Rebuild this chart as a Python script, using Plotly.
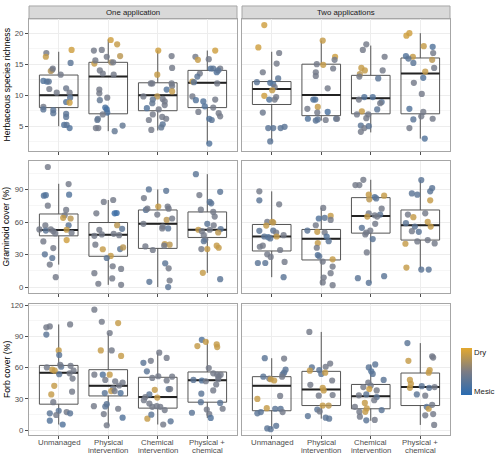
import plotly.graph_objects as go
from plotly.subplots import make_subplots

TREATMENT_LABELS = ["Unmanaged", "Physical<br>intervention", "Chemical<br>intervention", "Physical +<br>chemical"]
APPLICATIONS = ["One application", "Two applications"]
RESPONSE_TITLES = ["Herbaceous species richness", "Graminoid cover (%)", "Forb cover (%)"]

herb_one = [
    [(16.8,-0.25,0.45),(16.2,-0.26,0.85),(17.3,0.26,0.9),(14.1,-0.13,0.45),(13.9,-0.16,0.75),(14.3,-0.12,0.45),
     (13.3,0.04,0.45),(15.2,0.24,0.3),(12.3,-0.31,0.25),(12.2,-0.24,0.25),(12.2,-0.2,0.3),(11.0,-0.19,0.45),
     (10.4,-0.04,0.45),(11.1,0.15,0.4),(10.4,0.22,0.45),(9.6,0.23,0.3),(8.9,0.15,0.25),(8.8,0.22,0.9),
     (8.1,-0.31,0.45),(7.7,-0.31,0.3),(7.6,-0.11,0.3),(7.1,-0.11,0.3),(7.0,0.15,0.3),(6.5,0.15,0.3),
     (5.2,0.11,0.25),(5.2,0.16,0.3),(4.7,0.22,0.25)],
    [(17.2,-0.29,0.45),(17.3,-0.13,0.45),(18.9,0.05,0.9),(18.2,0.18,0.85),(16.3,0.24,0.8),(16.2,-0.03,0.45),
     (15.1,-0.28,0.85),(15.6,-0.26,0.45),(15.3,0.06,0.7),(15.3,0.1,0.45),(14.0,-0.17,0.45),(13.5,-0.11,0.45),
     (13.3,0.11,0.45),(10.9,-0.18,0.45),(10.3,-0.18,0.45),(9.2,-0.17,0.35),(9.6,-0.02,0.45),(8.0,-0.06,0.2),
     (7.7,-0.03,0.15),(7.2,-0.02,0.2),(6.9,-0.11,0.45),(6.0,-0.22,0.35),(6.2,-0.21,0.35),(4.7,-0.25,0.45),
     (4.7,-0.2,0.45),(4.2,0.13,0.35),(5.1,0.29,0.35)],
    [(17.2,0.01,0.9),(16.3,0.28,0.45),(14.4,0.29,0.45),(13.3,-0.01,0.85),(11.9,-0.14,0.45),(11.9,-0.11,0.45),
     (11.9,0.28,0.45),(11.5,0.29,0.45),(10.9,0.18,0.25),(10.6,0.29,0.85),(9.8,-0.01,0.8),(9.8,-0.29,0.45),
     (9.3,-0.1,0.35),(8.7,-0.11,0.35),(9.4,0.1,0.45),(9.0,0.14,0.45),(7.9,-0.22,0.25),(8.4,0.14,0.45),
     (7.7,0.02,0.45),(6.9,-0.1,0.45),(6.0,-0.18,0.45),(6.5,0.09,0.45),(6.2,0.17,0.45),(5.3,0.1,0.3),
     (4.8,0.07,0.35),(4.4,-0.13,0.45)],
    [(16.2,-0.24,0.45),(15.7,-0.19,0.85),(17.2,0.16,0.9),(15.8,0.03,0.45),(14.3,0.07,0.25),(14.3,0.12,0.3),
     (14.3,0.26,0.45),(13.7,0.19,0.25),(14.0,0.22,0.3),(13.5,-0.15,0.45),(13.0,-0.2,0.3),(12.2,-0.3,0.85),
     (12.1,-0.27,0.3),(11.9,0.2,0.45),(9.8,-0.3,0.45),(9.2,-0.23,0.25),(9.0,-0.08,0.25),(9.3,0.16,0.45),
     (8.0,0.12,0.45),(8.2,-0.05,0.25),(7.3,-0.18,0.45),(7.1,0.23,0.45),(6.6,0.26,0.45),(6.2,0.04,0.25),
     (6.0,0.09,0.3),(2.2,0.04,0.25)],
]
herb_two = [
    [(21.3,-0.15,0.9),(17.7,-0.27,0.9),(16.8,0.15,0.45),(15.1,0.1,0.45),(13.7,-0.18,0.45),(12.7,0.13,0.3),
     (12.1,-0.3,0.3),(12.0,-0.03,0.25),(11.8,0.03,0.25),(11.3,0.06,0.45),(10.8,0.01,0.85),(9.9,-0.15,0.9),
     (9.7,0.09,0.45),(9.3,-0.05,0.25),(9.3,0.06,0.45),(7.2,-0.18,0.4),(4.7,-0.07,0.3),(4.7,0.03,0.3),
     (4.7,0.18,0.3),(4.9,0.26,0.3),(2.55,-0.03,0.3)],
    [(18.8,0.03,0.85),(16.2,0.28,0.9),(15.7,0.27,0.45),(15.0,-0.09,0.45),(14.9,0.04,0.85),(14.3,0.24,0.45),
     (13.7,-0.11,0.45),(13.1,-0.11,0.45),(11.1,0.13,0.45),(9.3,-0.16,0.25),(9.3,-0.12,0.25),(8.1,-0.07,0.85),
     (7.8,-0.28,0.45),(7.2,-0.08,0.45),(7.3,0.13,0.2),(6.2,-0.27,0.25),(5.9,-0.11,0.3),(6.1,-0.07,0.3),
     (6.0,0.09,0.45),(6.2,0.3,0.3),(6.2,0.32,0.45)],
    [(18.2,-0.09,0.45),(17.3,-0.16,0.45),(16.2,0.28,0.45),(14.4,-0.19,0.85),(14.0,-0.12,0.85),(13.4,-0.22,0.8),
     (13.0,-0.23,0.45),(14.0,0.24,0.45),(12.7,0.15,0.3),(9.7,0.04,0.25),(9.7,-0.13,0.25),(9.3,-0.24,0.45),
     (8.9,0.22,0.3),(8.7,0.19,0.45),(7.7,0.13,0.3),(7.4,-0.18,0.85),(6.9,-0.28,0.45),(6.9,-0.05,0.45),
     (6.3,-0.09,0.45),(5.1,-0.2,0.3),(4.7,-0.13,0.45),(5.0,-0.04,0.3),(4.1,-0.2,0.45)],
    [(19.6,-0.28,0.9),(20.0,-0.22,0.9),(17.9,0.07,0.85),(17.8,0.25,0.25),(16.8,0.26,0.45),(16.3,-0.29,0.25),
     (16.2,-0.15,0.85),(15.9,-0.24,0.3),(15.2,-0.14,0.3),(15.7,0.24,0.8),(14.4,0.28,0.45),(13.8,0.1,0.85),
     (12.8,0.06,0.25),(12.0,-0.13,0.45),(10.2,0.03,0.45),(7.8,-0.22,0.25),(7.3,0.06,0.45),(6.6,0.02,0.45),
     (6.1,-0.14,0.3),(6.2,0.25,0.45),(4.7,-0.22,0.45),(3.0,0.09,0.25)],
]
gram_one = [
    [(111,-0.22,0.45),(84.5,-0.3,0.25),(85,-0.26,0.25),(75.3,-0.22,0.45),(95.2,0.2,0.45),(85.4,0.21,0.25),
     (71.3,0.15,0.45),(63.4,0.24,0.8),(66.4,0.12,0.45),(64.0,0.09,0.85),(57,-0.27,0.45),(57.2,0.2,0.3),
     (53.3,-0.39,0.45),(52.3,-0.26,0.3),(53.3,-0.16,0.45),(51.7,-0.11,0.45),(49.6,-0.07,0.45),(53,0.16,0.85),
     (50.2,0.26,0.45),(42.2,-0.31,0.45),(43.5,0.16,0.9),(36.1,-0.11,0.45),(30.3,-0.28,0.3),(26.9,-0.13,0.3),
     (20.8,-0.18,0.45),(9.2,-0.06,0.45)],
    [(68.2,-0.24,0.45),(78.7,-0.09,0.45),(80.5,0.1,0.45),(68.2,0.13,0.12),(68.5,0.17,0.12),(47.4,-0.28,0.45),
     (53,-0.18,0.45),(48.7,-0.13,0.45),(35,-0.11,0.85),(39.2,-0.26,0.45),(57.2,0.18,0.8),(49.3,0.11,0.45),
     (48,0.22,0.45),(53.9,0.28,0.3),(35.2,0.24,0.3),(36.7,0.3,0.8),(28.8,0.05,0.85),(26.9,-0.03,0.3),
     (19.3,0.09,0.45),(16.8,0.26,0.45),(12.9,-0.28,0.45),(3.1,-0.2,0.45),(8,0.08,0.45),(2.1,0.26,0.45)],
    [(90.3,-0.18,0.3),(82.3,-0.28,0.45),(89,0.17,0.3),(71.3,-0.24,0.3),(72.5,-0.21,0.45),(74.4,0.01,0.85),
     (74.4,0.2,0.45),(67,-0.01,0.45),(72.5,0.22,0.45),(62.1,0.18,0.8),(63.4,0.29,0.45),(58.5,-0.29,0.45),
     (56,0.1,0.45),(54.2,0.09,0.45),(54.2,0.21,0.3),(39.8,0.14,0.85),(39.2,0.24,0.8),(37.6,-0.25,0.45),
     (34.3,-0.1,0.45),(38.3,0.13,0.45),(22,0.15,0.3),(17.4,0.22,0.45),(4.9,-0.17,0.3),(6.1,0.24,0.45),
     (0,0.21,0.3)],
    [(104.4,-0.23,0.3),(85.1,-0.16,0.45),(88.1,0.26,0.3),(71.6,-0.13,0.45),(78.7,0.05,0.3),(77.4,0.08,0.3),
     (69.5,0.12,0.45),(65.2,0.15,0.45),(58.5,0.0,0.3),(57.2,0.13,0.45),(53,-0.18,0.85),(51.7,-0.11,0.45),
     (53,0.05,0.45),(53.6,0.27,0.3),(48,-0.07,0.45),(44,-0.04,0.45),(42.5,-0.07,0.3),(50.5,0.22,0.8),
     (38.3,0.19,0.85),(36.4,0.23,0.85),(35.2,0.0,0.85),(35.2,-0.12,0.45),(13.2,-0.09,0.85),(7.3,0.26,0.3)],
]
gram_two = [
    [(88.5,-0.25,0.45),(80.2,-0.25,0.3),(76.5,0.15,0.45),(60.3,-0.09,0.45),(60.3,0.01,0.85),(56.9,-0.11,0.85),
     (59.7,0.03,0.8),(52,-0.25,0.3),(52.3,0.03,0.3),(50.5,0.09,0.45),(48,0.24,0.45),(46.8,-0.15,0.3),
     (46.2,-0.07,0.25),(45,-0.03,0.3),(46.8,0.1,0.85),(37.3,-0.24,0.45),(38.3,-0.18,0.45),(34.3,0.17,0.45),
     (30.3,-0.09,0.45),(27.9,-0.02,0.45),(23.3,0.26,0.45),(22.3,-0.28,0.3),(22.3,-0.13,0.3),(9.2,0.24,0.3)],
    [(73.2,0.04,0.45),(65.8,0.19,0.85),(63.4,-0.05,0.25),(64,0.07,0.3),(62.1,0.19,0.45),(57.2,-0.11,0.45),
     (52.3,-0.28,0.3),(51.1,-0.08,0.85),(50.5,0.07,0.45),(46.8,0.11,0.25),(42.5,0.15,0.3),(40.7,-0.07,0.85),
     (36.4,-0.09,0.45),(29.7,-0.07,0.25),(28.5,-0.04,0.3),(25.7,0.23,0.85),(23.6,0.03,0.45),(19,0.23,0.45),
     (12.9,0.19,0.45),(8.9,0.05,0.45),(4.3,0.03,0.45),(1.8,0.23,0.45)],
    [(94.3,-0.31,0.45),(94.3,-0.23,0.45),(99.2,-0.15,0.45),(85.4,-0.04,0.85),(84.5,0.27,0.85),(83.3,0.08,0.25),
     (82,0.11,0.3),(81.1,-0.03,0.8),(54.8,-0.18,0.3),(72.5,0.22,0.45),(68.2,-0.04,0.45),(65.2,-0.07,0.85),
     (66.4,0.08,0.45),(67,0.19,0.3),(65.2,0.13,0.45),(58.5,0.09,0.45),(52.3,-0.01,0.45),(50.5,-0.09,0.45),
     (48.7,-0.11,0.45),(44.4,0.04,0.3),(32.1,-0.08,0.45),(8.3,-0.26,0.3),(10.1,0.27,0.3),(4.0,-0.04,0.3)],
    [(98.9,0.02,0.3),(91.5,0.24,0.3),(88.5,0.2,0.3),(86.6,-0.17,0.3),(85.4,-0.06,0.3),(80.2,0.2,0.85),
     (68.2,0.1,0.45),(67,-0.25,0.45),(64.6,-0.14,0.85),(59.1,-0.29,0.3),(60.3,0.15,0.85),(56,0.21,0.85),
     (56,-0.11,0.3),(51.7,-0.17,0.45),(51.1,-0.03,0.3),(43.5,0.15,0.45),(42.2,-0.06,0.45),(40.4,0.29,0.45),
     (40.1,-0.3,0.85),(18.1,-0.28,0.85),(16.2,0.02,0.3),(16.2,0.17,0.3)],
]
forb_one = [
    [(98.6,-0.25,0.45),(99.5,-0.18,0.45),(101.4,0.23,0.45),(91.7,-0.25,0.3),(76.5,0.0,0.85),(72.1,0.01,0.3),
     (60.2,-0.24,0.45),(60.8,0.05,0.3),(62.7,0.03,0.45),(61.7,0.24,0.45),(58,-0.13,0.85),(57,-0.08,0.85),
     (57,0.3,0.45),(53.6,0.01,0.3),(49.5,0.28,0.45),(54.5,0.22,0.45),(42.5,-0.09,0.85),(36.9,0.27,0.45),
     (34.3,-0.15,0.85),(26.8,-0.11,0.45),(18.6,0.0,0.3),(16.1,-0.18,0.3),(14.5,-0.05,0.45),(17.3,0.16,0.45),
     (16.1,0.23,0.3),(9.1,-0.18,0.25),(5.4,0.08,0.25)],
    [(115.6,-0.28,0.45),(104,-0.13,0.45),(102.7,0.2,0.85),(93.2,0.03,0.45),(76.5,-0.15,0.85),(76.5,0.07,0.45),
     (71.2,0.26,0.85),(53.2,-0.28,0.45),(53.2,-0.11,0.25),(53.2,0.03,0.85),(48.2,-0.06,0.45),(46.9,0.14,0.45),
     (45.7,0.29,0.45),(42.8,0.22,0.45),(40,0.1,0.45),(37.5,0.06,0.85),(37.5,0.13,0.45),(35.6,-0.07,0.3),
     (35.6,0.25,0.25),(24.9,-0.03,0.3),(22.7,-0.06,0.3),(23,-0.29,0.45),(20.5,0.2,0.45),(15.4,-0.09,0.45),
     (12,0.29,0.25),(4.7,-0.03,0.45)],
    [(64.6,-0.29,0.3),(66.5,-0.14,0.45),(74.3,0.03,0.45),(69.3,0.18,0.45),(56.4,-0.22,0.3),(50.1,-0.11,0.45),
     (51.7,0.01,0.45),(51.3,0.29,0.45),(47.6,0.18,0.45),(39.4,0.22,0.3),(39.4,0.25,0.45),(38.7,-0.06,0.85),
     (34.3,-0.17,0.3),(31.8,-0.25,0.45),(31.2,-0.01,0.85),(28.7,-0.28,0.45),(25.5,-0.17,0.45),(22.4,-0.11,0.45),
     (23,-0.02,0.45),(22.4,0.05,0.45),(19.2,0.14,0.45),(11,-0.21,0.85),(14.8,-0.13,0.3),(8.5,0.26,0.3),
     (5.4,0.11,0.45)],
    [(86.6,-0.11,0.25),(84.7,-0.03,0.85),(80.6,-0.2,0.85),(82.2,0.19,0.85),(79.7,0.2,0.85),(59.5,0.03,0.45),
     (48.2,-0.28,0.3),(47.6,-0.11,0.25),(46.9,-0.03,0.45),(54.5,0.12,0.45),(53.2,0.2,0.45),(51.3,0.23,0.45),
     (53.2,0.27,0.45),(48.8,0.22,0.45),(38.1,0.12,0.45),(43.8,0.18,0.45),(35,-0.12,0.3),(26.1,0.26,0.3),
     (26.8,-0.13,0.3),(19.8,-0.01,0.45),(20.5,0.31,0.45),(16.7,-0.31,0.3),(15.4,0.04,0.45),(11.7,0.07,0.25)],
]
forb_two = [
    [(69,-0.14,0.3),(68.7,0.25,0.45),(58,0.28,0.3),(55.1,0.25,0.3),(53.6,0.22,0.3),(51.3,0.21,0.45),
     (51.3,-0.17,0.3),(49.5,-0.05,0.45),(48.8,-0.02,0.85),(47.6,0.05,0.85),(32.8,0.17,0.45),(29.9,-0.29,0.85),
     (21.1,-0.1,0.85),(20.5,0.07,0.3),(20.5,0.18,0.3),(17.3,0.22,0.45),(16.1,-0.29,0.3),(17.3,-0.22,0.3),
     (4.1,0.09,0.3),(1.6,-0.09,0.3),(0.9,-0.02,0.3)],
    [(94.2,-0.24,0.45),(60.2,-0.19,0.3),(57,-0.23,0.85),(57.6,-0.04,0.3),(60.8,0.09,0.45),(63.9,0.18,0.45),
     (53.9,0.0,0.3),(55.1,0.08,0.85),(47.6,0.22,0.45),(43.5,-0.22,0.45),(40.6,0.03,0.85),(38.1,0.05,0.85),
     (33.1,-0.05,0.45),(33.7,0.23,0.45),(23.6,0.03,0.85),(23.6,0.15,0.8),(19.8,-0.08,0.3),(18,-0.03,0.45),
     (13.5,-0.27,0.3),(12,0.09,0.3),(11,0.16,0.3)],
    [(63,0.09,0.3),(60.2,-0.04,0.3),(56.4,0.01,0.25),(53.9,0.04,0.3),(48.2,0.26,0.3),(45.7,-0.05,0.45),
     (42.8,0.0,0.45),(41.3,-0.15,0.45),(39.4,-0.03,0.9),(38.1,0.12,0.45),(33.4,-0.24,0.45),(34.3,-0.09,0.3),
     (31.8,0.12,0.3),(28.7,0.07,0.45),(26.1,-0.12,0.85),(22.4,-0.32,0.45),(20.8,-0.08,0.85),(17.6,-0.23,0.45),
     (17.6,-0.11,0.85),(19.2,0.22,0.3),(12.9,-0.22,0.45),(9.4,-0.09,0.3),(9.8,0.08,0.45)],
    [(83.5,-0.26,0.3),(66.5,-0.24,0.85),(70.9,0.24,0.45),(69.6,0.26,0.45),(57.6,0.19,0.85),(55.1,0.17,0.85),
     (48.2,-0.21,0.85),(44.4,-0.19,0.85),(40.6,-0.21,0.85),(42.2,0.03,0.3),(40.6,0.18,0.3),(41.3,0.29,0.45),
     (34.3,-0.07,0.3),(33.1,0.1,0.45),(22.4,0.13,0.3),(20.5,0.17,0.85),(24.3,0.24,0.45),(14.2,0.1,0.45),
     (15.4,0.26,0.45),(5,0.28,0.45)],
]

# Box statistics per treatment: (lower whisker, Q1, median, Q3, upper whisker)
herb_one_box = [(5.0,8.0,10.0,13.25,17.0),(4.2,7.0,13.0,15.3,19.0),(4.3,7.5,10.0,12.0,17.2),(2.2,8.0,12.0,14.0,17.2)]
herb_two_box = [(2.55,8.5,11.0,12.2,17.0),(5.9,6.7,10.05,15.0,18.8),(4.0,7.0,9.5,13.2,18.0),(3.0,7.0,13.5,16.0,20.0)]
gram_one_box = [(20.8,47.4,52.7,67.6,95.5),(2.1,28.5,48.4,59.7,80.5),(0.0,35.8,58.5,71.3,90.3),(13.2,45.9,53.0,69.5,104.4)]
gram_two_box = [(9.2,33.4,46.8,57.9,88.5),(1.8,25.1,44.7,53.3,73.2),(4.0,49.9,65.8,82.7,99.2),(16.2,43.5,57.2,71.3,98.9)]
forb_one_box = [(5.4,24.9,55.1,62.1,101.4),(4.7,32.8,42.5,58.0,93.2),(5.4,21.1,31.8,50.7,74.3),(11.7,26.8,47.9,55.8,86.6)]
forb_two_box = [(0.9,18.6,42.5,51.3,69.0),(11.0,23.6,39.1,56.4,94.2),(9.0,20.5,32.4,43.8,63.0),(5.0,23.6,41.3,54.8,83.5)]

PANEL_POINTS = [[herb_one, herb_two], [gram_one, gram_two], [forb_one, forb_two]]
PANEL_BOXES = [[herb_one_box, herb_two_box], [gram_one_box, gram_two_box], [forb_one_box, forb_two_box]]

W, H = 500, 456
FONT = "Liberation Sans, Arial, sans-serif"
COLORSCALE = [[0.0, "#2A6BB1"], [0.5, "#7C7C84"], [1.0, "#E3A82E"]]

# layout in pixels
col_px = [(29, 237), (242, 450)]
row_px = [(16, 149), (159, 292), (303, 435)]
y_ranges = [[1.0, 22.3], [-5.5, 116.6], [-4.8, 121.0]]
y_dticks = [5, 30, 30]

fig = make_subplots(rows=3, cols=2)

first = True
for r in range(3):
    for c in range(2):
        pts = PANEL_POINTS[r][c]
        box = PANEL_BOXES[r][c]
        xs = [1, 2, 3, 4]
        fig.add_trace(go.Box(
            x=xs,
            lowerfence=[b[0] for b in box], q1=[b[1] for b in box], median=[b[2] for b in box],
            q3=[b[3] for b in box], upperfence=[b[4] for b in box],
            width=0.78, whiskerwidth=0, boxpoints=False,
            fillcolor="rgba(255,255,255,0)", line=dict(color="#555555", width=1),
            hoverinfo="skip", showlegend=False), row=r + 1, col=c + 1)
        # bold median line
        med = [b[2] for b in box]
        fig.add_trace(go.Box(
            x=xs, lowerfence=med, q1=med, median=med, q3=med, upperfence=med,
            width=0.78, whiskerwidth=0, boxpoints=False,
            fillcolor="rgba(255,255,255,0)", line=dict(color="#222222", width=2),
            hoverinfo="skip", showlegend=False), row=r + 1, col=c + 1)
        px, py, pc = [], [], []
        for i, group in enumerate(pts):
            for v, j, d in group:
                px.append(i + 1 + j)
                py.append(v)
                pc.append(d)
        marker = dict(size=6.2, color=pc, colorscale=COLORSCALE, cmin=0, cmax=1,
                      opacity=0.82, line=dict(width=0))
        if first:
            marker.update(showscale=True, colorbar=dict(
                x=461 / W, xanchor="left", y=(H - 370.5) / H, yanchor="middle",
                len=47 / H, lenmode="fraction", thickness=11, thicknessmode="pixels",
                tickvals=[0.08, 0.9], ticktext=["Mesic", "Dry"], ticks="",
                outlinewidth=0, xpad=0, ypad=0,
                tickfont=dict(family=FONT, size=7.8, color="#1A1A1A")))
            first = False
        else:
            marker.update(showscale=False)
        fig.add_trace(go.Scatter(x=px, y=py, mode="markers", marker=marker,
                                 hoverinfo="y", showlegend=False), row=r + 1, col=c + 1)

        idx = r * 2 + c + 1
        xk = "xaxis" if idx == 1 else f"xaxis{idx}"
        yk = "yaxis" if idx == 1 else f"yaxis{idx}"
        x0, x1 = col_px[c]
        y0, y1 = row_px[r]
        fig.layout[xk].update(
            domain=[x0 / W, x1 / W], range=[0.4, 4.6], tickvals=xs,
            showticklabels=False, ticks="outside", ticklen=3, tickcolor="#4D4D4D",
            showgrid=True, gridcolor="#EDEDED", gridwidth=1, zeroline=False,
            showline=True, linecolor="#A6A6A6", linewidth=1, mirror=True, fixedrange=True)
        fig.layout[yk].update(
            domain=[(H - y1) / H, (H - y0) / H], range=y_ranges[r],
            tick0=0, dtick=y_dticks[r],
            showticklabels=(c == 0), ticks="outside" if c == 0 else "", ticklen=3,
            tickcolor="#4D4D4D", tickfont=dict(family=FONT, size=7.8, color="#4D4D4D"),
            showgrid=True, gridcolor="#EDEDED", gridwidth=1, zeroline=False,
            minor=dict(tick0=0, dtick=y_dticks[r] / 2, showgrid=True, gridcolor="#F6F6F6", gridwidth=0.6),
            showline=True, linecolor="#A6A6A6", linewidth=1, mirror=True, fixedrange=True)

shapes = []
annotations = []
for c in range(2):
    x0, x1 = col_px[c]
    shapes.append(dict(type="rect", xref="paper", yref="paper",
                       x0=x0 / W, x1=x1 / W, y0=(H - 16) / H, y1=(H - 3) / H,
                       fillcolor="#D9D9D9", line=dict(color="#A6A6A6", width=1), layer="below"))
    annotations.append(dict(text=APPLICATIONS[c], xref="paper", yref="paper",
                            x=(x0 + x1) / 2 / W, y=(H - 9.5) / H, showarrow=False,
                            xanchor="center", yanchor="middle",
                            font=dict(family=FONT, size=7.8, color="#1A1A1A")))
    # bottom-row category labels (two lines, tight spacing like the reference)
    xref = "x5" if c == 0 else "x6"
    for i, lab in enumerate(TREATMENT_LABELS):
        for k, line in enumerate(lab.split("<br>")):
            annotations.append(dict(text=line, xref=xref, yref="paper",
                                    x=i + 1, y=(H - (442.5 + 8 * k)) / H, showarrow=False,
                                    xanchor="center", yanchor="middle",
                                    font=dict(family=FONT, size=7.8, color="#4D4D4D")))
for r in range(3):
    y0, y1 = row_px[r]
    annotations.append(dict(text=RESPONSE_TITLES[r], xref="paper", yref="paper",
                            x=6.5 / W, y=(H - (y0 + y1) / 2) / H, textangle=-90, showarrow=False,
                            xanchor="center", yanchor="middle",
                            font=dict(family=FONT, size=8.7, color="#000000")))

fig.update_layout(
    width=W, height=H, margin=dict(l=0, r=0, t=0, b=0),
    paper_bgcolor="white", plot_bgcolor="white",
    boxmode="overlay", shapes=shapes, annotations=annotations,
    font=dict(family=FONT, size=8, color="#1A1A1A"),
)

# remove the browser's default 8px body margin so the figure sits at the page origin
fig.write_html("out.html", config={"displayModeBar": False},
               post_script="document.body.style.margin='0';document.body.style.overflow='hidden';")
